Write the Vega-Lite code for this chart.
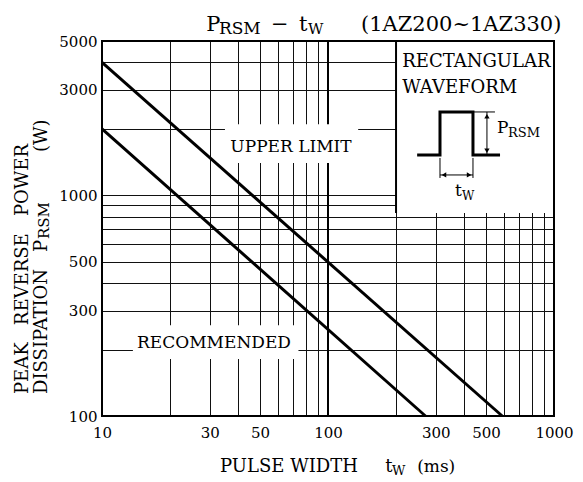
{
  "$schema": "https://vega.github.io/schema/vega-lite/v6.json",
  "width": 452,
  "height": 375,
  "autosize": {"type": "none"},
  "padding": {"left": 102, "top": 41, "right": 29, "bottom": 66},
  "background": "white",
  "config": {"view": {"stroke": null}, "font": "DejaVu Serif", "text": {"font": "DejaVu Serif", "color": "black"}},
  "datasets": {
    "curves": [
      {"tw": 10, "p": 4000, "c": "upper"},
      {"tw": 590, "p": 100, "c": "upper"},
      {"tw": 10, "p": 2000, "c": "recommended"},
      {"tw": 270, "p": 100, "c": "recommended"}
    ],
    "pulse": [
      {"i": 1, "tw": 248, "p": 1523},
      {"i": 2, "tw": 313, "p": 1523},
      {"i": 3, "tw": 313, "p": 2385},
      {"i": 4, "tw": 438, "p": 2385},
      {"i": 5, "tw": 438, "p": 1523},
      {"i": 6, "tw": 577, "p": 1523}
    ]
  },
  "layer": [
    {
      "data": {"values": [{}]},
      "mark": {"type": "rule", "color": "black", "strokeWidth": 2},
      "encoding": {
        "x": {"datum": 100, "type": "quantitative",
          "scale": {"type": "log", "domain": [10, 1000], "nice": false},
          "axis": {"title": null, "values": [10,20,30,40,50,60,70,80,90,100,200,300,400,500,600,700,800,900,1000],
            "grid": true, "gridColor": "#111", "gridWidth": 1, "gridOpacity": 1, "ticks": false, "domain": false,
            "labelExpr": "indexof([10,30,50,100,300,500,1000], datum.value) >= 0 ? '' + datum.value : ''",
            "labelFont": "DejaVu Serif", "labelFontSize": 15, "labelColor": "black", "labelPadding": 9,
            "labelFlush": false, "labelOverlap": false, "labelBound": false}},
        "y": {"datum": 100, "type": "quantitative",
          "scale": {"type": "log", "domain": [100, 5000], "nice": false},
          "axis": {"title": null, "values": [100,200,300,400,500,600,700,800,900,1000,2000,3000,4000,5000],
            "grid": true, "gridColor": "#111", "gridWidth": 1, "gridOpacity": 1, "ticks": false, "domain": false,
            "labelExpr": "indexof([100,300,500,1000,3000,5000], datum.value) >= 0 ? '' + datum.value : ''",
            "labelFont": "DejaVu Serif", "labelFontSize": 15, "labelColor": "black", "labelPadding": 5,
            "labelFlush": false, "labelOverlap": false, "labelBound": false}},
        "y2": {"datum": 5000}
      }
    },
    {
      "data": {"values": [{}]},
      "mark": {"type": "rect", "color": "white", "opacity": 1},
      "encoding": {"x": {"datum": 35, "type": "quantitative"}, "x2": {"datum": 136}, "y": {"datum": 1400, "type": "quantitative"}, "y2": {"datum": 2100}}
    },
    {
      "data": {"values": [{}]},
      "mark": {"type": "rect", "color": "white", "opacity": 1},
      "encoding": {"x": {"datum": 13.7, "type": "quantitative"}, "x2": {"datum": 74}, "y": {"datum": 181, "type": "quantitative"}, "y2": {"datum": 258}}
    },
    {
      "data": {"values": [{}]},
      "mark": {"type": "rect", "color": "white", "opacity": 1},
      "encoding": {"x": {"datum": 200, "type": "quantitative"}, "x2": {"datum": 1000}, "y": {"datum": 831, "type": "quantitative"}, "y2": {"datum": 5000}}
    },
    {
      "data": {"values": [{}]},
      "mark": {"type": "rule", "color": "black", "strokeWidth": 2},
      "encoding": {"x": {"datum": 200, "type": "quantitative"}, "y": {"datum": 831, "type": "quantitative"}, "y2": {"datum": 5000}}
    },
    {
      "data": {"name": "curves"},
      "mark": {"type": "line", "color": "black", "strokeWidth": 3},
      "encoding": {"x": {"field": "tw", "type": "quantitative"}, "y": {"field": "p", "type": "quantitative"}, "detail": {"field": "c"}}
    },
    {
      "data": {"name": "pulse"},
      "mark": {"type": "line", "color": "black", "strokeWidth": 3, "strokeJoin": "miter"},
      "encoding": {"x": {"field": "tw", "type": "quantitative"}, "y": {"field": "p", "type": "quantitative"}, "order": {"field": "i"}}
    },
    {
      "data": {"values": [{}]},
      "mark": {"type": "rule", "color": "black", "strokeWidth": 1},
      "encoding": {"x": {"datum": 505, "type": "quantitative"}, "y": {"datum": 1523, "type": "quantitative"}, "y2": {"datum": 2385}}
    },
    {
      "data": {"values": [{}]},
      "mark": {"type": "rule", "color": "black", "strokeWidth": 1},
      "encoding": {"x": {"datum": 438, "type": "quantitative"}, "x2": {"datum": 548}, "y": {"datum": 2385, "type": "quantitative"}}
    },
    {
      "data": {"values": [{}]},
      "mark": {"type": "rule", "color": "black", "strokeWidth": 1},
      "encoding": {"x": {"datum": 313, "type": "quantitative"}, "y": {"datum": 1198, "type": "quantitative"}, "y2": {"datum": 1476}}
    },
    {
      "data": {"values": [{}]},
      "mark": {"type": "rule", "color": "black", "strokeWidth": 1},
      "encoding": {"x": {"datum": 438, "type": "quantitative"}, "y": {"datum": 1198, "type": "quantitative"}, "y2": {"datum": 1476}}
    },
    {
      "data": {"values": [{}]},
      "mark": {"type": "rule", "color": "black", "strokeWidth": 1},
      "encoding": {"x": {"datum": 313, "type": "quantitative"}, "x2": {"datum": 438}, "y": {"datum": 1236, "type": "quantitative"}}
    },
    {
      "data": {"values": [{}]},
      "mark": {"type": "point", "shape": "triangle-up", "filled": true, "color": "black", "size": 28, "opacity": 1},
      "encoding": {"x": {"datum": 505, "type": "quantitative"}, "y": {"datum": 2280, "type": "quantitative"}}
    },
    {
      "data": {"values": [{}]},
      "mark": {"type": "point", "shape": "triangle-down", "filled": true, "color": "black", "size": 28, "opacity": 1},
      "encoding": {"x": {"datum": 505, "type": "quantitative"}, "y": {"datum": 1590, "type": "quantitative"}}
    },
    {
      "data": {"values": [{}]},
      "mark": {"type": "point", "shape": "triangle-left", "filled": true, "color": "black", "size": 28, "opacity": 1},
      "encoding": {"x": {"datum": 326, "type": "quantitative"}, "y": {"datum": 1236, "type": "quantitative"}}
    },
    {
      "data": {"values": [{}]},
      "mark": {"type": "point", "shape": "triangle-right", "filled": true, "color": "black", "size": 28, "opacity": 1},
      "encoding": {"x": {"datum": 421, "type": "quantitative"}, "y": {"datum": 1236, "type": "quantitative"}}
    },
    {
      "data": {"values": [{}]},
      "mark": {"type": "text", "text": "P", "fontSize": 21, "align": "left", "baseline": "alphabetic"},
      "encoding": {"x": {"datum": 28.9, "type": "quantitative"}, "y": {"datum": 5550, "type": "quantitative"}}
    },
    {
      "data": {"values": [{}]},
      "mark": {"type": "text", "text": "RSM", "fontSize": 17, "align": "left", "baseline": "alphabetic", "dy": 3},
      "encoding": {"x": {"datum": 32.9, "type": "quantitative"}, "y": {"datum": 5550, "type": "quantitative"}}
    },
    {
      "data": {"values": [{}]},
      "mark": {"type": "text", "text": "−", "fontSize": 21, "align": "left", "baseline": "alphabetic"},
      "encoding": {"x": {"datum": 55.9, "type": "quantitative"}, "y": {"datum": 5550, "type": "quantitative"}}
    },
    {
      "data": {"values": [{}]},
      "mark": {"type": "text", "text": "t", "fontSize": 21, "align": "left", "baseline": "alphabetic"},
      "encoding": {"x": {"datum": 74.4, "type": "quantitative"}, "y": {"datum": 5550, "type": "quantitative"}}
    },
    {
      "data": {"values": [{}]},
      "mark": {"type": "text", "text": "W", "fontSize": 15, "align": "left", "baseline": "alphabetic", "dy": 3},
      "encoding": {"x": {"datum": 81.6, "type": "quantitative"}, "y": {"datum": 5550, "type": "quantitative"}}
    },
    {
      "data": {"values": [{}]},
      "mark": {"type": "text", "text": "(1AZ200~1AZ330)", "fontSize": 21, "align": "left", "baseline": "alphabetic"},
      "encoding": {"x": {"datum": 140, "type": "quantitative"}, "y": {"datum": 5550, "type": "quantitative"}}
    },
    {
      "data": {"values": [{}]},
      "mark": {"type": "text", "text": "RECTANGULAR", "fontSize": 18, "align": "left", "baseline": "alphabetic"},
      "encoding": {"x": {"datum": 213, "type": "quantitative"}, "y": {"datum": 3813, "type": "quantitative"}}
    },
    {
      "data": {"values": [{}]},
      "mark": {"type": "text", "text": "WAVEFORM", "fontSize": 18, "align": "left", "baseline": "alphabetic"},
      "encoding": {"x": {"datum": 213, "type": "quantitative"}, "y": {"datum": 2908, "type": "quantitative"}}
    },
    {
      "data": {"values": [{}]},
      "mark": {"type": "text", "text": "P", "fontSize": 17, "align": "left", "baseline": "alphabetic"},
      "encoding": {"x": {"datum": 559, "type": "quantitative"}, "y": {"datum": 1915, "type": "quantitative"}}
    },
    {
      "data": {"values": [{}]},
      "mark": {"type": "text", "text": "RSM", "fontSize": 13, "align": "left", "baseline": "alphabetic", "dy": 4},
      "encoding": {"x": {"datum": 626, "type": "quantitative"}, "y": {"datum": 1915, "type": "quantitative"}}
    },
    {
      "data": {"values": [{}]},
      "mark": {"type": "text", "text": "t", "fontSize": 17, "align": "left", "baseline": "alphabetic"},
      "encoding": {"x": {"datum": 365, "type": "quantitative"}, "y": {"datum": 993, "type": "quantitative"}}
    },
    {
      "data": {"values": [{}]},
      "mark": {"type": "text", "text": "W", "fontSize": 12, "align": "left", "baseline": "alphabetic", "dy": 4},
      "encoding": {"x": {"datum": 392, "type": "quantitative"}, "y": {"datum": 993, "type": "quantitative"}}
    },
    {
      "data": {"values": [{}]},
      "mark": {"type": "text", "text": "UPPER LIMIT", "fontSize": 17, "align": "center", "baseline": "alphabetic"},
      "encoding": {"x": {"datum": 68.6, "type": "quantitative"}, "y": {"datum": 1571, "type": "quantitative"}}
    },
    {
      "data": {"values": [{}]},
      "mark": {"type": "text", "text": "RECOMMENDED", "fontSize": 17, "align": "center", "baseline": "alphabetic"},
      "encoding": {"x": {"datum": 31.3, "type": "quantitative"}, "y": {"datum": 203, "type": "quantitative"}}
    },
    {
      "data": {"values": [{}]},
      "mark": {"type": "text", "text": "PEAK\u00a0\u00a0\u00a0REVERSE\u00a0\u00a0\u00a0POWER", "fontSize": 18, "align": "left", "baseline": "alphabetic", "angle": 270},
      "encoding": {"x": {"datum": 4.7, "type": "quantitative"}, "y": {"datum": 125.8, "type": "quantitative"}}
    },
    {
      "data": {"values": [{}]},
      "mark": {"type": "text", "text": "DISSIPATION", "fontSize": 18, "align": "left", "baseline": "alphabetic", "angle": 270},
      "encoding": {"x": {"datum": 5.71, "type": "quantitative"}, "y": {"datum": 125.8, "type": "quantitative"}}
    },
    {
      "data": {"values": [{}]},
      "mark": {"type": "text", "text": "P", "fontSize": 18, "align": "left", "baseline": "alphabetic", "angle": 270},
      "encoding": {"x": {"datum": 5.71, "type": "quantitative"}, "y": {"datum": 554, "type": "quantitative"}}
    },
    {
      "data": {"values": [{}]},
      "mark": {"type": "text", "text": "RSM", "fontSize": 15, "align": "left", "baseline": "alphabetic", "angle": 270, "dy": 2},
      "encoding": {"x": {"datum": 5.71, "type": "quantitative"}, "y": {"datum": 634, "type": "quantitative"}}
    },
    {
      "data": {"values": [{}]},
      "mark": {"type": "text", "text": "(W)", "fontSize": 18, "align": "left", "baseline": "alphabetic", "angle": 270},
      "encoding": {"x": {"datum": 5.71, "type": "quantitative"}, "y": {"datum": 1571, "type": "quantitative"}}
    },
    {
      "data": {"values": [{}]},
      "mark": {"type": "text", "text": "PULSE WIDTH", "fontSize": 18, "align": "left", "baseline": "alphabetic"},
      "encoding": {"x": {"datum": 33.3, "type": "quantitative"}, "y": {"datum": 55.7, "type": "quantitative"}}
    },
    {
      "data": {"values": [{}]},
      "mark": {"type": "text", "text": "t", "fontSize": 18, "align": "left", "baseline": "alphabetic"},
      "encoding": {"x": {"datum": 179, "type": "quantitative"}, "y": {"datum": 55.7, "type": "quantitative"}}
    },
    {
      "data": {"values": [{}]},
      "mark": {"type": "text", "text": "W", "fontSize": 13, "align": "left", "baseline": "alphabetic", "dy": 3},
      "encoding": {"x": {"datum": 192, "type": "quantitative"}, "y": {"datum": 55.7, "type": "quantitative"}}
    },
    {
      "data": {"values": [{}]},
      "mark": {"type": "text", "text": "(ms)", "fontSize": 17, "align": "left", "baseline": "alphabetic"},
      "encoding": {"x": {"datum": 248, "type": "quantitative"}, "y": {"datum": 55.7, "type": "quantitative"}}
    },
    {
      "data": {"values": [{}]},
      "mark": {"type": "rect", "fillOpacity": 0, "stroke": "black", "strokeWidth": 2},
      "encoding": {"x": {"datum": 10, "type": "quantitative"}, "x2": {"datum": 1000}, "y": {"datum": 100, "type": "quantitative"}, "y2": {"datum": 5000}}
    }
  ]
}
